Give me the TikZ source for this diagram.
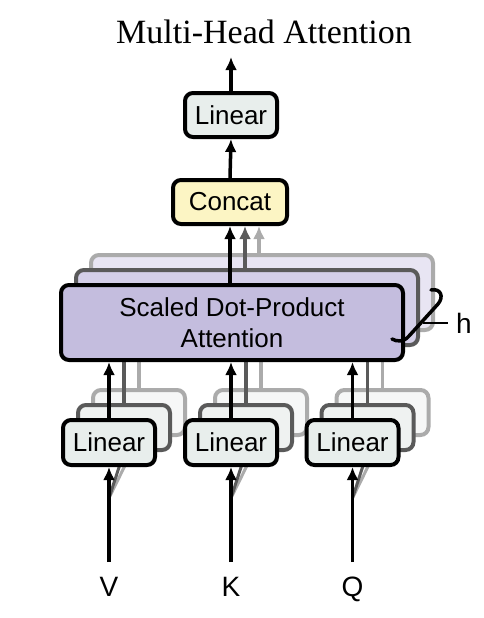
\documentclass[tikz,border=0pt]{standalone}
\usepackage{fontspec}
\setmainfont{Liberation Serif}
\newfontfamily\hv{Liberation Sans}
\usetikzlibrary{arrows.meta}
\definecolor{linfill}{HTML}{E8EEEC}
\definecolor{linfillA}{HTML}{EFF2F1}
\definecolor{linfillB}{HTML}{F6F7F7}
\definecolor{catfill}{HTML}{FCF5C4}
\definecolor{attfill}{HTML}{C4BDDE}
\definecolor{attfillA}{HTML}{D4CFE8}
\definecolor{attfillB}{HTML}{E8E5F3}
\definecolor{grayA}{HTML}{5A5A5A}
\definecolor{grayB}{HTML}{ABABAB}
\begin{document}
\begin{tikzpicture}[x=1pt,y=-1pt,
  box/.style={draw=black, line width=4pt, rounded corners=8pt, inner sep=0pt,
    font=\hv\fontsize{26}{31}\selectfont, align=center},
  linbox/.style={box, fill=linfill, minimum width=92pt, minimum height=45pt},
  linA/.style={linbox, draw=grayA, fill=linfillA},
  linB/.style={linbox, draw=grayB, fill=linfillB},
  attbox/.style={box, fill=attfill, minimum width=342pt, minimum height=75pt},
  attA/.style={attbox, draw=grayA, fill=attfillA},
  attB/.style={attbox, draw=grayB, fill=attfillB},
  arr/.style={line width=3.5pt, -{Latex[length=13pt,width=12pt]}},
  arrA/.style={arr, color=grayA},
  arrB/.style={arr, color=grayB},
  lbl/.style={font=\hv\fontsize{28}{30}\selectfont, anchor=base, inner sep=0pt}
]
\useasboundingbox (0,0) rectangle (484,618);

% title
\node[font=\fontsize{34}{40}\selectfont, anchor=base, inner sep=0pt] (title) at (264,44) {Multi-Head Attention};

% back attention layer B
\node[attB] (attB) at (262,292.5) {};
\foreach \n/\x in {v/109,k/231,q/352.5}{
  \coordinate (sp\n) at (\x,498);
  \node[linB] (\n B) at (\x+30,412.5) {};
  \draw[line width=3pt, grayB] (sp\n) -- (\n B.south);
  \draw[arrB] (\n B.north) -- (\n B.north |- attB.south);
}
% layer A
\node[attA] (attA) at (247,307.5) {};
\foreach \n/\x in {v/109,k/231,q/352.5}{
  \node[linA] (\n A) at (\x+15,427.5) {};
  \draw[line width=3pt, grayA] (sp\n) -- (\n A.south);
  \draw[arrA] (\n A.north) -- (\n A.north |- attA.south);
}
% front layer
\node[attbox] (att) at (232,322.5) {Scaled Dot-Product\\Attention};
\foreach \n/\x/\lab in {v/109/V,k/231/K,q/352.5/Q}{
  \node[linbox] (\n L) at (\x,442.5) {Linear};
  \coordinate (in\n) at (\x,562);
  \draw[arr] (in\n) -- (\n L.south);
  \draw[arr] (\n L.north) -- (\n L.north |- att.south);
  \node[lbl] (lab\n) at (\x,596) {\lab};
}

% concat and output linear
\node[box, fill=catfill, minimum width=114pt, minimum height=44pt] (cat) at (230,202) {Concat};
\node[linbox, minimum height=44pt] (out) at (231,115) {Linear};
\coordinate (top) at (231,57);

\draw[arrB] (259,254) -- (259,226);
\draw[arrA] (245,269) -- (245,226);
\draw[arr] (cat.south |- att.north) -- (cat.south);
\draw[arr] (cat.north) -- (out.south);
\draw[arr] (out.north) -- (top);

% brace and h
\draw[line width=3.5pt, line cap=round] (431,290) .. controls (441,288) and (444,297) .. (438,304)
  -- (409,336) .. controls (404,342) and (397,342) .. (392,339);
\draw[line width=2pt] (423,323) -- (448,323);
\node[lbl, anchor=base west] (h) at (456,333) {h};
\end{tikzpicture}
\end{document}
